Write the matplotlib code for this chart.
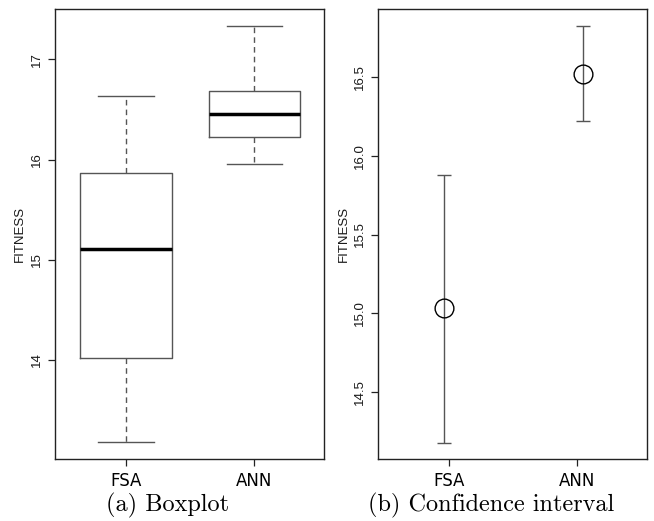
import matplotlib
matplotlib.use("Agg")
import matplotlib.pyplot as plt

# ---- data ----
groups = ["FSA", "ANN"]
box_whislo = [13.175, 15.959]
box_q1 = [14.017, 16.225]
box_med = [15.106, 16.458]
box_q3 = [15.866, 16.680]
box_whishi = [16.634, 17.335]

ci_mean = [15.032, 16.521]
ci_lower = [14.176, 16.220]
ci_upper = [15.877, 16.828]

left_yticks = [14, 15, 16, 17]
right_yticks = [14.5, 15.0, 15.5, 16.0, 16.5]
right_yticklabels = ["14.5", "15.0", "15.5", "16.0", "16.5"]

W, H = 654, 521
fig = plt.figure(figsize=(W / 100, H / 100), dpi=100)

def px_axes(x0, x1, y0, y1):
    return fig.add_axes([x0 / W, 1 - y1 / H, (x1 - x0) / W, (y1 - y0) / H])

frame_col = "#222222"
line_col = "#555555"

def style_axes(ax):
    for s in ax.spines.values():
        s.set_color(frame_col)
        s.set_linewidth(1.0)
    ax.tick_params(axis="both", direction="out", length=5, width=0.9, color=frame_col)
    ax.tick_params(axis="y", pad=4)
    ax.tick_params(axis="x", pad=4.5)
    for lab in ax.get_yticklabels():
        lab.set_rotation(90)
        lab.set_va("center")
        lab.set_fontfamily("Liberation Sans")
        lab.set_fontsize(9.5)
        lab.set_color("#1a1a1a")
    for lab in ax.get_xticklabels():
        lab.set_fontfamily("DejaVu Sans")
        lab.set_fontsize(12)
        lab.set_color("black")
    ax.set_ylabel("FITNESS", family="Liberation Sans", fontsize=9.5, labelpad=3, color="#1a1a1a")

# ---- (a) Boxplot ----
ax1 = px_axes(55, 324, 9.3, 459)
stats = []
for i, g in enumerate(groups):
    stats.append(dict(label=g, whislo=box_whislo[i], q1=box_q1[i], med=box_med[i],
                      q3=box_q3[i], whishi=box_whishi[i], fliers=[]))
ax1.bxp(stats, positions=[1, 2], widths=0.71, capwidths=0.43, showfliers=False,
        boxprops=dict(color=line_col, linewidth=1.0),
        whiskerprops=dict(color=line_col, linewidth=1.0, linestyle=(0, (4, 3))),
        capprops=dict(color=line_col, linewidth=1.0),
        medianprops=dict(color="black", linewidth=2.5, solid_capstyle="butt"))
ax1.set_xlim(0.447, 2.543)
ax1.set_ylim(13.009, 17.50)
ax1.set_yticks(left_yticks)
ax1.set_yticklabels([str(t) for t in left_yticks])
ax1.set_xticks([1, 2])
ax1.set_xticklabels(groups)
style_axes(ax1)

# ---- (b) Confidence interval ----
ax2 = px_axes(378.3, 647, 9.3, 459)
dodge = [-0.04, 0.042]
for i, g in enumerate(groups):
    x = i + 1 + dodge[i]
    ax2.errorbar([x], [ci_mean[i]],
                 yerr=[[ci_mean[i] - ci_lower[i]], [ci_upper[i] - ci_mean[i]]],
                 fmt="none", ecolor=line_col, elinewidth=1.0, capsize=4.8, capthick=1.0)
    ax2.plot([x], [ci_mean[i]], marker="o", ms=13.5, mfc="none", mec="black",
             mew=1.0, linestyle="none")
ax2.set_xlim(0.449, 2.543)
ax2.set_ylim(14.072, 16.933)
ax2.set_yticks(right_yticks)
ax2.set_yticklabels(right_yticklabels)
ax2.set_xticks([1, 2])
ax2.set_xticklabels(groups)
style_axes(ax2)

# ---- captions ----
fig.text(168 / W, 1 - 511 / H, "(a) Boxplot", family="cmr10", fontsize=17.5,
         ha="center", va="baseline")
fig.text(491 / W, 1 - 511 / H, "(b) Confidence interval", family="cmr10", fontsize=17.5,
         ha="center", va="baseline")

fig.savefig("out.png", dpi=100, facecolor="white")
